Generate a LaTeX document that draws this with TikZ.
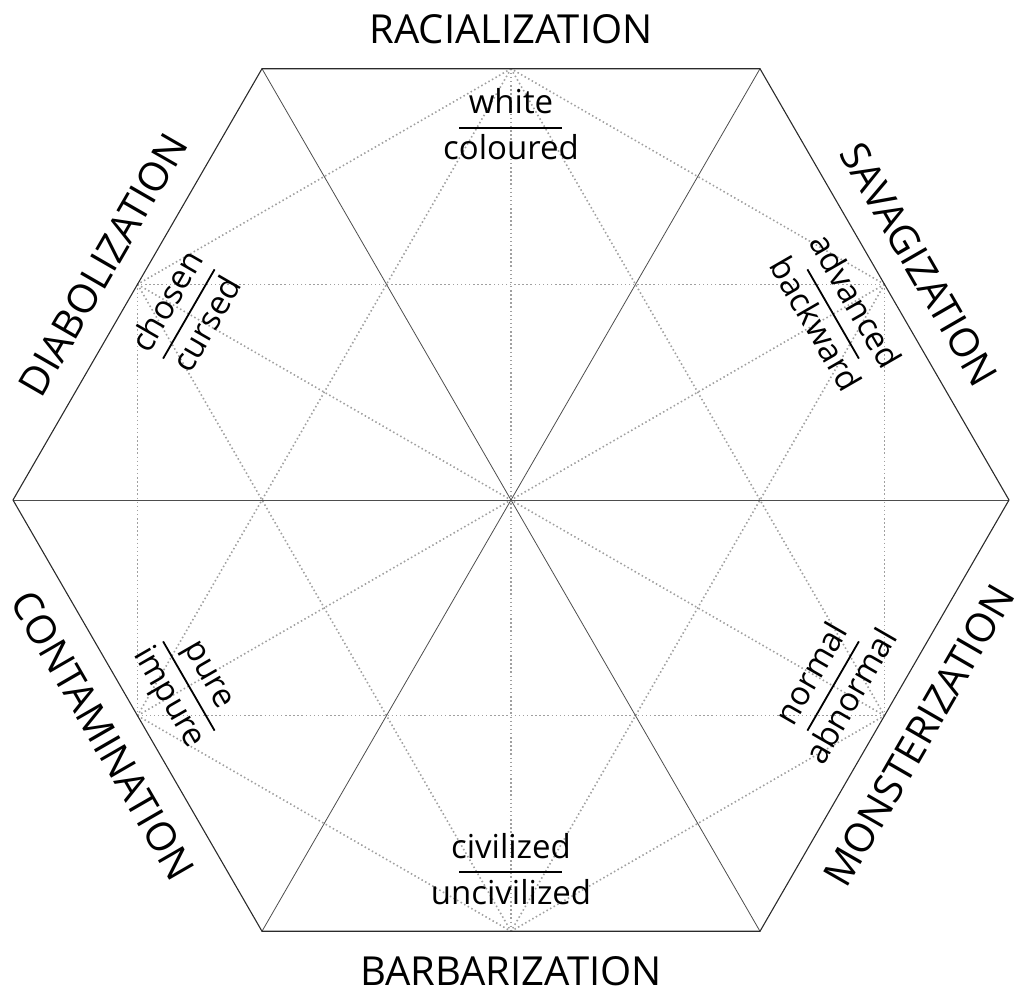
\documentclass[tikz,border=0pt]{standalone}
\usepackage{fontspec}
\setmainfont{Open Sans}
\usetikzlibrary{calc}
\definecolor{rim}{HTML}{2B2B2B}
\definecolor{spoke}{HTML}{4D4D4D}
\definecolor{dots}{HTML}{A0A0A0}
\tikzset{
  rim/.style={draw=rim,line width=1.1pt,line join=miter},
  spoke/.style={draw=spoke,line width=0.8pt},
  dotline/.style={draw=dots,line width=1.6pt,dash pattern=on 1.5pt off 2.6pt},
  axis/.style={font=\fontsize{40}{40}\selectfont,inner sep=0pt},
  pole/.style={font=\fontsize{33}{33}\selectfont,inner sep=0pt,anchor=base}
}
% one pair of opposites: name, angle, rotation, upper, lower
\newcommand{\duo}[5]{%
  \begin{scope}[shift={(#2:372)},rotate=#3]
    \draw[line width=1.8pt] (-51.5,0) -- (51.5,0);
    \node[pole,rotate=#3] (#1-up) at (0,14) {#4};
    \node[pole,rotate=#3] (#1-dn) at (0,-32) {#5};
  \end{scope}}

\begin{document}
\begin{tikzpicture}[x=1pt,y=1pt]
  \useasboundingbox (-511,-490) rectangle (504,500);
  \foreach \i in {0,...,5} {
    \coordinate (v\i) at (\i*60:498);
    \coordinate (m\i) at (30+\i*60:431.3);
  }
  % dotted net between the edge midpoints
  \foreach \a in {0,...,5} {
    \foreach \b in {0,...,5} {
      \ifnum\a<\b \draw[dotline] (m\a) -- (m\b);\fi
    }
  }
  \foreach \a/\b in {0/3,1/4,2/5} \draw[spoke] (v\a) -- (v\b);
  \draw[rim] (v0) -- (v1) -- (v2) -- (v3) -- (v4) -- (v5) -- cycle;
  % the six processes
  \foreach \nm/\t/\a/\r in {rac/RACIALIZATION/90/0, sav/SAVAGIZATION/30/-60,
      dia/DIABOLIZATION/150/60, con/CONTAMINATION/210/-60,
      bar/BARBARIZATION/270/0, mon/MONSTERIZATION/330/60}
    \node[axis,rotate=\r] (\nm) at (\a:471) {\t};
  \duo{col}{90}{0}{white}{coloured}
  \duo{adv}{30}{-60}{advanced}{backward}
  \duo{cho}{150}{60}{chosen}{cursed}
  \duo{pur}{210}{-60}{pure}{impure}
  \duo{civ}{270}{0}{civilized}{uncivilized}
  \duo{nor}{330}{60}{normal}{abnormal}
\end{tikzpicture}
\end{document}
